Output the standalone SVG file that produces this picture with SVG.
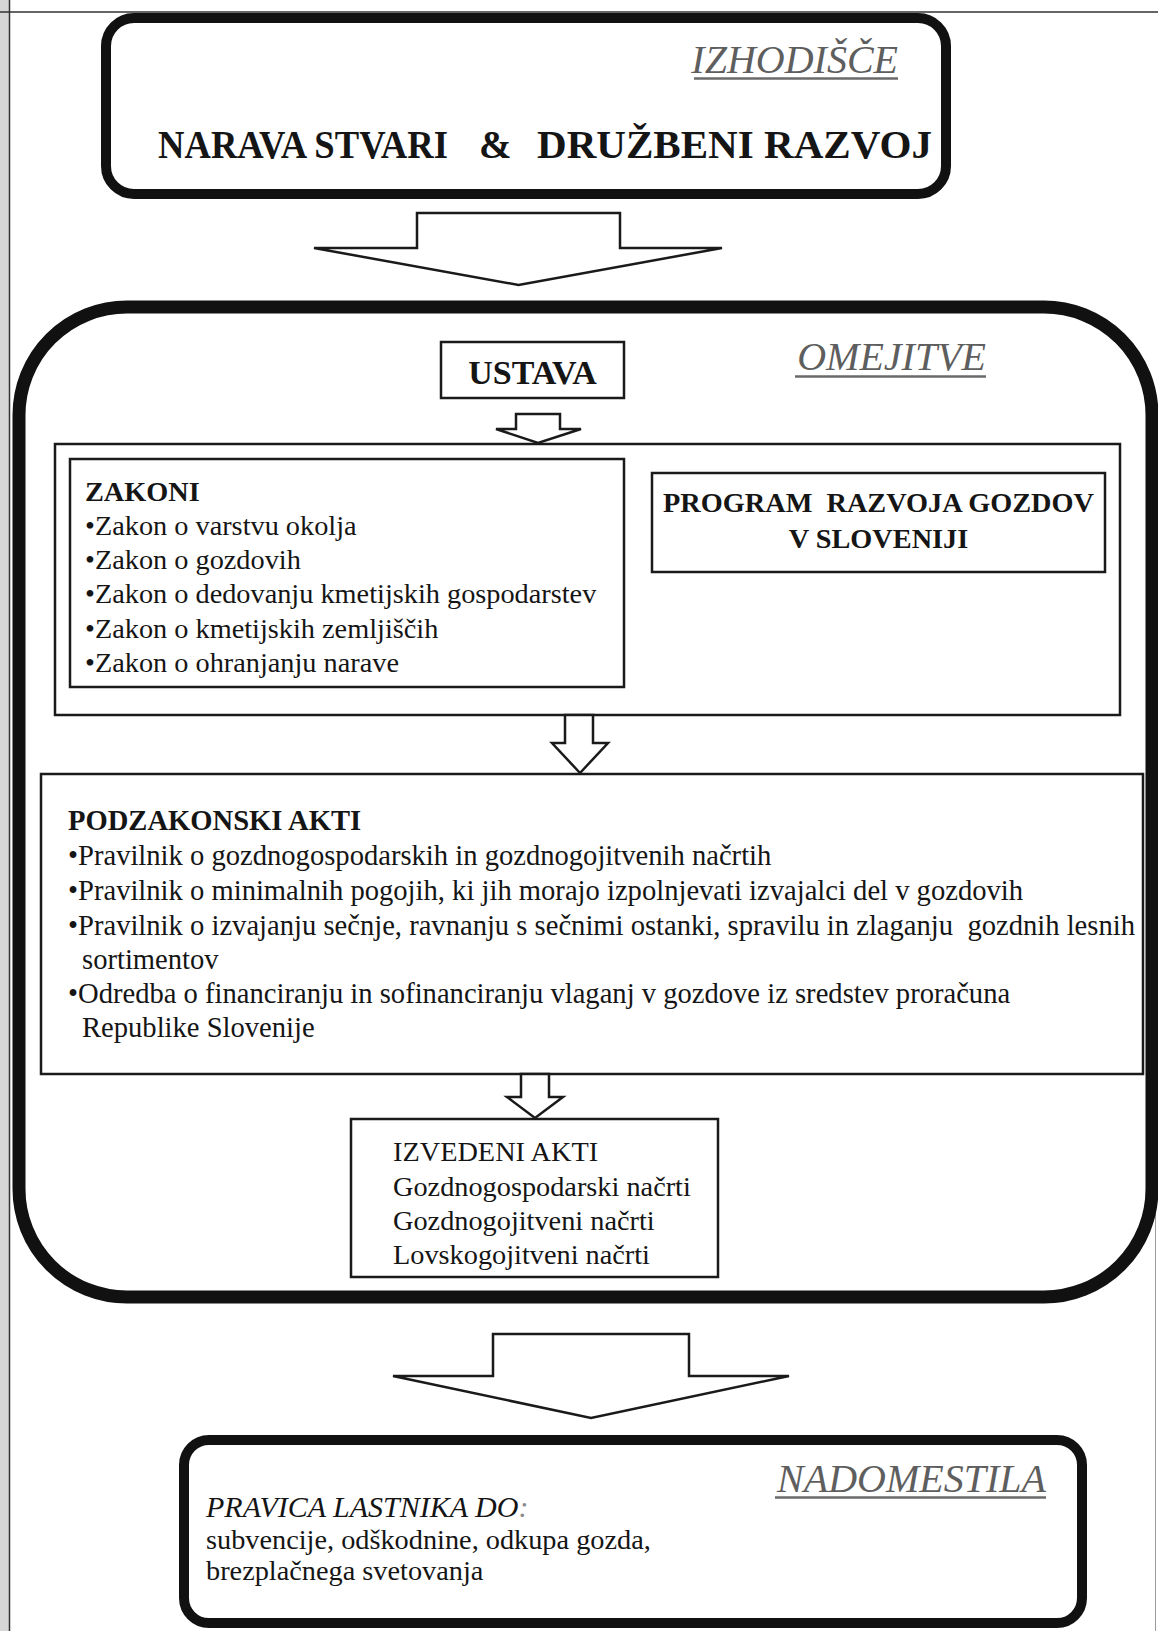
<svg xmlns="http://www.w3.org/2000/svg" width="1158" height="1631" viewBox="0 0 1158 1631">
<style>
  text { font-family: "Liberation Serif", "Times New Roman", serif; fill: #151515; }
  .b { font-weight: bold; }
  .t28 { font-size: 28.3px; }
  .lab { font-size: 40px; font-style: italic; fill: #5e5e5e; }
  .ul { stroke: #6a6a6a; stroke-width: 2.5; }
  .thick { fill: #ffffff; stroke: #111; stroke-width: 10; }
  .huge { fill: none; stroke: #111; stroke-width: 13; }
  .thin { fill: #ffffff; stroke: #1a1a1a; stroke-width: 2.5; }
  .arr { fill: #ffffff; stroke: #1a1a1a; stroke-width: 2.5; stroke-linejoin: miter; }
  .page { stroke: #333; stroke-width: 1.5; fill: none; }
</style>
<rect x="0" y="0" width="1158" height="1631" fill="#ffffff"/>
<rect x="0" y="0" width="9" height="1631" fill="#d6d6d6"/>
<line class="page" x1="9.5" y1="0" x2="9.5" y2="1631"/>
<line class="page" x1="0" y1="12" x2="1158" y2="12"/>
<line x1="1155.5" y1="1180" x2="1155.5" y2="1631" stroke="#9a9a9a" stroke-width="1"/>

<g id="izhodisce">
  <rect class="thick" x="106" y="18" width="840" height="176" rx="28" ry="28"/>
  <text class="lab" x="898" y="73" text-anchor="end">IZHODIŠČE</text>
  <line class="ul" x1="694" y1="78.5" x2="898" y2="78.5"/>
  <text class="b" font-size="39" y="158" x="158" textLength="290" lengthAdjust="spacingAndGlyphs">NARAVA STVARI</text>
  <text class="b" font-size="39" y="158" x="479">&amp;</text>
  <text class="b" font-size="39" y="158" x="537" textLength="395" lengthAdjust="spacingAndGlyphs">DRUŽBENI RAZVOJ</text>
</g>

<g id="omejitve">
  <rect class="huge" x="19" y="307" width="1133" height="990" rx="108" ry="108"/>
  <text class="lab" x="986" y="370" text-anchor="end">OMEJITVE</text>
  <line class="ul" x1="795" y1="376.5" x2="986" y2="376.5"/>
</g>

<g id="ustava">
  <rect class="thin" x="441" y="342" width="183" height="56"/>
  <text class="b" font-size="34" x="532.5" y="384" text-anchor="middle">USTAVA</text>
</g>

<g id="zakoni-okvir">
  <rect class="thin" x="55" y="444" width="1065" height="271" stroke-width="2"/>
</g>

<g id="zakoni">
  <rect class="thin" x="70" y="459" width="554" height="228"/>
  <text class="t28" x="85">
    <tspan class="b" x="85" y="501">ZAKONI</tspan>
    <tspan x="85" y="535">•Zakon o varstvu okolja</tspan>
    <tspan x="85" y="569">•Zakon o gozdovih</tspan>
    <tspan x="85" y="603">•Zakon o dedovanju kmetijskih gospodarstev</tspan>
    <tspan x="85" y="638">•Zakon o kmetijskih zemljiščih</tspan>
    <tspan x="85" y="672">•Zakon o ohranjanju narave</tspan>
  </text>
</g>

<g id="program">
  <rect class="thin" x="652" y="473" width="453" height="99"/>
  <text class="b t28" text-anchor="middle" xml:space="preserve"><tspan x="878.5" y="512">PROGRAM  RAZVOJA GOZDOV</tspan><tspan x="878.5" y="548">V SLOVENIJI</tspan></text>
</g>

<g id="podzakonski">
  <rect class="thin" x="41" y="774" width="1102" height="300"/>
  <text font-size="28.6" xml:space="preserve"><tspan class="b" x="68" y="830">PODZAKONSKI AKTI</tspan><tspan x="68" y="865">•Pravilnik o gozdnogospodarskih in gozdnogojitvenih načrtih</tspan><tspan x="68" y="900">•Pravilnik o minimalnih pogojih, ki jih morajo izpolnjevati izvajalci del v gozdovih</tspan><tspan x="68" y="935">•Pravilnik o izvajanju sečnje, ravnanju s sečnimi ostanki, spravilu in zlaganju  gozdnih lesnih</tspan><tspan x="82" y="969">sortimentov</tspan><tspan x="68" y="1003">•Odredba o financiranju in sofinanciranju vlaganj v gozdove iz sredstev proračuna</tspan><tspan x="82" y="1037">Republike Slovenije</tspan></text>
</g>

<g id="izvedeni">
  <rect class="thin" x="351" y="1119" width="367" height="158"/>
  <text class="t28">
    <tspan x="393" y="1161">IZVEDENI AKTI</tspan>
    <tspan x="393" y="1196">Gozdnogospodarski načrti</tspan>
    <tspan x="393" y="1230">Gozdnogojitveni načrti</tspan>
    <tspan x="393" y="1264">Lovskogojitveni načrti</tspan>
  </text>
</g>

<g id="nadomestila">
  <rect class="thick" x="184" y="1440" width="898" height="183" rx="25" ry="25"/>
  <text class="lab" x="1046" y="1492" text-anchor="end">NADOMESTILA</text>
  <line class="ul" x1="775" y1="1497.5" x2="1046" y2="1497.5"/>
  <text x="206" y="1517" font-size="30" font-style="italic" fill="#3a3a3a">PRAVICA LASTNIKA DO<tspan fill="#8a8a8a">:</tspan></text>
  <text class="t28">
    <tspan x="206" y="1549">subvencije, odškodnine, odkupa gozda,</tspan>
    <tspan x="206" y="1580">brezplačnega svetovanja</tspan>
  </text>
</g>

<g id="connectors">
  <polygon class="arr" points="417,213 620,213 620,248 722,248 518.5,285 314,248 417,248"/>
  <polygon class="arr" points="516,414 560,414 560,429 581,429 538,443 496,429 516,429"/>
  <polygon class="arr" points="565,715 593,715 593,743 608,743 580,773 552,743 565,743"/>
  <polygon class="arr" points="521,1074 549,1074 549,1097 563,1097 535,1118 507,1097 521,1097"/>
  <polygon class="arr" points="493,1334 689,1334 689,1376 789,1376 591,1418 393,1376 493,1376"/>
</g>
</svg>
